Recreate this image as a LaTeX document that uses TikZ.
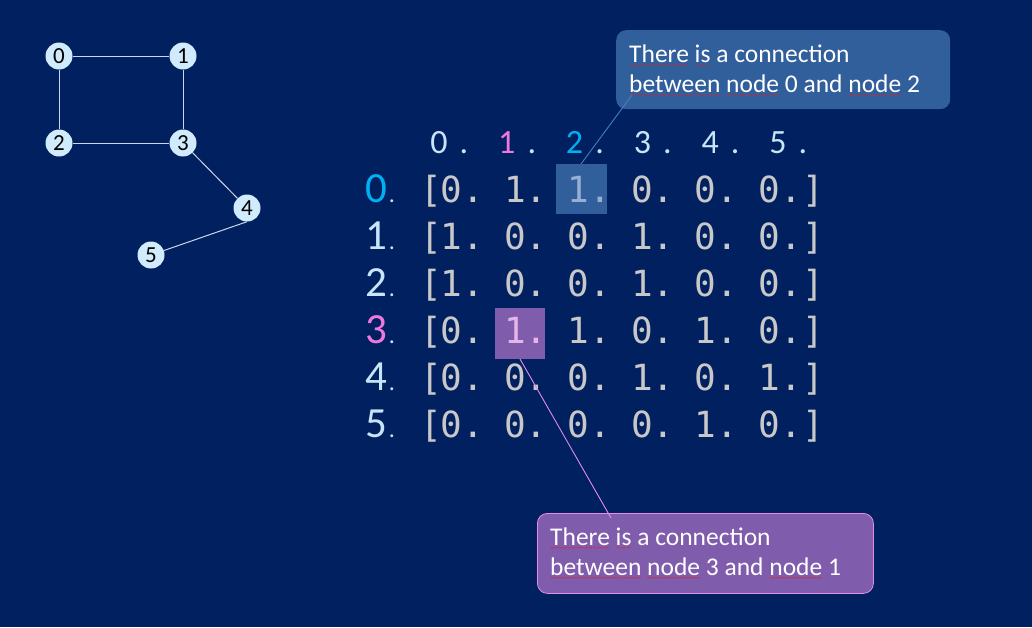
\documentclass[tikz,border=0pt]{standalone}
\usepackage{fontspec}
\newfontfamily\carlito{Carlito}
\newfontfamily\monofont{DejaVu Sans Mono}
\newfontfamily\labfont{Carlito}
\definecolor{bg}{RGB}{0,32,96}
\definecolor{gfill}{RGB}{207,235,252}
\definecolor{edgec}{RGB}{205,215,235}
\definecolor{cellc}{RGB}{200,200,200}
\definecolor{labc}{RGB}{200,228,248}
\definecolor{cyanc}{RGB}{0,176,240}
\definecolor{pinkc}{RGB}{240,120,220}
\definecolor{blueb}{RGB}{49,95,155}
\definecolor{bluet}{RGB}{150,175,210}
\definecolor{purpb}{RGB}{128,92,172}
\definecolor{purpt}{RGB}{228,182,232}
\definecolor{purpl}{RGB}{228,140,232}
\definecolor{bluel}{RGB}{70,125,195}
\definecolor{squig}{RGB}{230,30,30}
\newsavebox\sqbox
\newcommand\sq[1]{\sbox\sqbox{#1}\rlap{\raisebox{-5pt}[0pt][0pt]{\hbox to \wd\sqbox{\color{squig}\carlito\fontsize{8}{8}\selectfont\xleaders\hbox{\char"7E}\hfil}}}\usebox\sqbox}
\tikzset{
  gnode/.style={circle, fill=gfill, minimum size=27pt, inner sep=0pt, text=black, font=\carlito\fontsize{23}{23}\selectfont},
  edge/.style={draw=edgec, line width=1pt},
  cell/.style={anchor=base west, inner sep=0pt, text=cellc, font=\monofont\fontsize{36}{36}\selectfont},
  hdr/.style={anchor=base, inner sep=0pt, font=\labfont\fontsize{34}{34}\selectfont},
  rlab/.style={anchor=base, inner sep=0pt, font=\labfont\fontsize{43}{43}\selectfont},
  dotlab/.style={anchor=base, inner sep=0pt, text=labc, font=\labfont\fontsize{24}{24}\selectfont},
  callout/.style={rounded corners=10pt, inner sep=0pt, text=white, align=left, font=\carlito\fontsize{25.5}{29.5}\selectfont},
}
\begin{document}
\begin{tikzpicture}[x=1pt,y=-1pt]
\fill[bg] (0,0) rectangle (1032,627);
\useasboundingbox (0,0) rectangle (1032,627);
% graph
\node[gnode] (n0) at (59,56) {0};
\node[gnode] (n1) at (183,56) {1};
\node[gnode] (n2) at (59,143) {2};
\node[gnode] (n3) at (183,143) {3};
\node[gnode] (n4) at (247,208) {4};
\node[gnode] (n5) at (151,255) {5};
\draw[edge] (n0) -- (n1);
\draw[edge] (n0) -- (n2);
\draw[edge] (n1) -- (n3);
\draw[edge] (n2) -- (n3);
\draw[edge] (n3) -- (n4);
\draw[edge] (n5) -- (n4.south);
% highlight boxes
\fill[blueb] (556,164) rectangle (607,214);
\coordinate (hb) at (581,164);
\fill[purpb] (495,308) rectangle (545,359);
\coordinate (hp) at (520,359);
% header
\foreach \j/\c in {0/labc,1/pinkc,2/cyanc,3/labc,4/labc,5/labc}{
  \node[hdr, text=\c] (h\j) at ({439+67.8*\j},153) {\j};
  \node[hdr, text=labc] (hd\j) at ({439+67.8*\j+25},153) {.};
}
% row labels
\foreach \r/\c in {0/cyanc,1/labc,2/labc,3/pinkc,4/labc,5/labc}{
  \node[rlab, text=\c] (r\r) at (376,{202+47*\r}) {\r};
  \node[dotlab] (rd\r) at (392,{202+47*\r}) {.};
}
% matrix rows
\foreach \r/\vals in {0/{0,1,1,0,0,0},1/{1,0,0,1,0,0},2/{1,0,0,1,0,0},3/{0,1,1,0,1,0},4/{0,0,0,1,0,1},5/{0,0,0,0,1,0}}{
  \node[cell] (lb\r) at (420,{202+47*\r}) {[};
  \foreach \v [count=\k from 0] in \vals {
    \pgfmathsetmacro\tc{(\r==0 && \k==2) ? "bluet" : ((\r==3 && \k==1) ? "purpt" : "cellc")}
    \node[cell, text=\tc] (c\r\k) at ({419+21.2*(1+3*\k)},{202+47*\r}) {\v.};
  }
  \node[cell] (rb\r) at ({421+21.2*18},{202+47*\r}) {]};
}
% callout 1
\node[callout, fill=blueb, minimum width=334pt, minimum height=79pt, anchor=north west] (co1) at (616,30) {};
\node[callout, anchor=base west] (t1) at (629,92) {\sq{There} \sq{is} a connection\\[0pt]\sq{between} \sq{node} 0 and \sq{node} 2};
\coordinate (co1p) at (632,95);
\draw[bluel, line width=0.9pt] (hb) -- (co1p);
% callout 2
\node[callout, fill=purpb, draw=purpl, line width=0.8pt, minimum width=336pt, minimum height=80pt, anchor=north west] (co2) at (537,513) {};
\node[callout, anchor=base west] (t2) at (550,575) {\sq{There} \sq{is} a connection\\[0pt]\sq{between} \sq{node} 3 and \sq{node} 1};
\coordinate (co2p) at (611,518);
\draw[purpl, line width=0.9pt] (hp) -- (co2p);
\end{tikzpicture}
\end{document}
